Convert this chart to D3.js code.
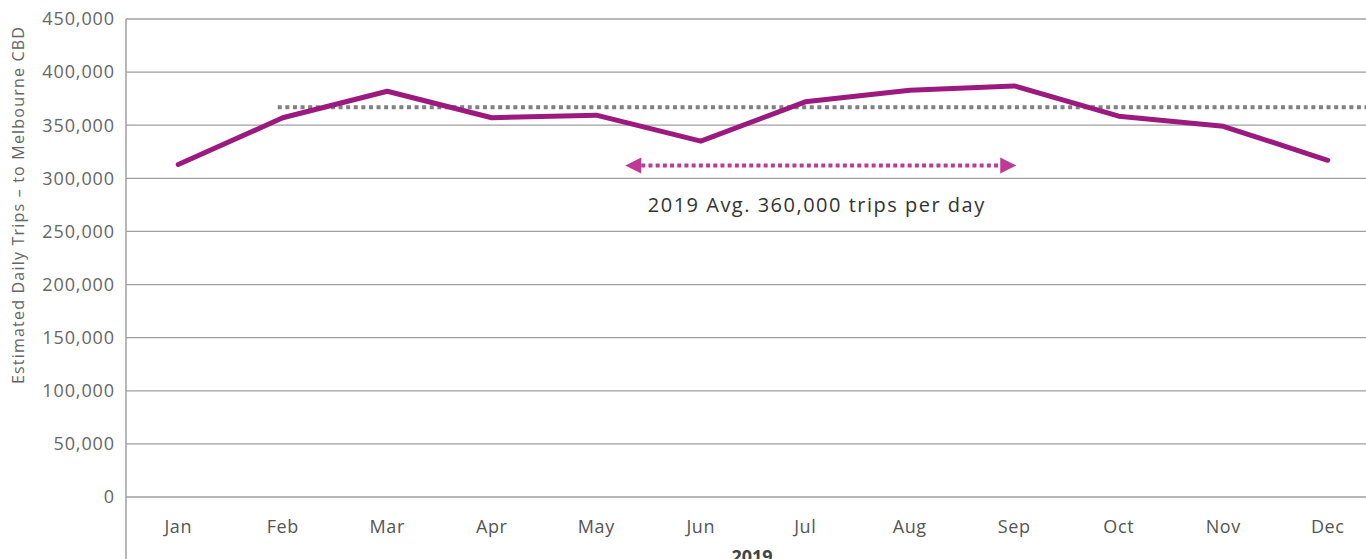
<!DOCTYPE html>
<html>
<head>
<meta charset="utf-8">
<script src="https://cdn.jsdelivr.net/npm/d3@7"></script>
<style>
  body { margin: 0; background: #fff; }
  svg { display: block; font-family: "Open Sans", Lato, sans-serif; }
</style>
</head>
<body>
<svg width="1366" height="559"></svg>
<script>
var months = ["Jan", "Feb", "Mar", "Apr", "May", "Jun", "Jul", "Aug", "Sep", "Oct", "Nov", "Dec"];
var trips = [313000, 357000, 382000, 357000, 359500, 335000, 372000, 383000, 387000, 358500, 349000, 317000];
var yTicks = [0, 50000, 100000, 150000, 200000, 250000, 300000, 350000, 400000, 450000];
var avgValue = 367000;
var avgStart = "Feb";
var arrowFrom = "May", arrowTo = "Sep", arrowValue = 312000;
var avgLabel = "2019 Avg. 360,000 trips per day";

var svg = d3.select("svg"),
    width = +svg.attr("width"),
    height = +svg.attr("height");

var plotLeft = 126, plotTop = 19, plotBottom = 497;

var x = d3.scaleBand()
    .domain(months)
    .range([plotLeft, plotLeft + 12 * 104.5]);

var y = d3.scaleLinear()
    .domain([0, 450000])
    .range([plotBottom, plotTop]);

var fmt = d3.format(",");

// gridlines
svg.append("g")
  .selectAll("line")
  .data(yTicks)
  .enter().append("line")
    .attr("x1", plotLeft)
    .attr("x2", width)
    .attr("y1", function(d) { return y(d); })
    .attr("y2", function(d) { return y(d); })
    .attr("stroke", "#a0a0a0")
    .attr("stroke-width", 1.3);

// y tick labels
svg.append("g")
  .selectAll("text")
  .data(yTicks)
  .enter().append("text")
    .attr("x", 115)
    .attr("y", function(d) { return y(d); })
    .attr("dy", "0.35em")
    .attr("text-anchor", "end")
    .attr("fill", "#666")
    .style("font-size", "18px")
    .style("letter-spacing", "0.9px")
    .text(function(d) { return fmt(d); });

// left axis line
svg.append("line")
    .attr("x1", plotLeft).attr("x2", plotLeft)
    .attr("y1", plotTop).attr("y2", height)
    .attr("stroke", "#a0a0a0")
    .attr("stroke-width", 1.5);

// y axis title
svg.append("text")
    .attr("transform", "translate(24," + 205 + ") rotate(-90)")
    .attr("text-anchor", "middle")
    .attr("fill", "#666")
    .style("font-size", "16px")
    .style("letter-spacing", "1.2px")
    .text("Estimated Daily Trips \u2013 to Melbourne CBD");

// month labels
svg.append("g")
  .selectAll("text")
  .data(months)
  .enter().append("text")
    .attr("x", function(d) { return x(d) + x.bandwidth() / 2; })
    .attr("y", 533)
    .attr("text-anchor", "middle")
    .attr("fill", "#555")
    .style("font-size", "18px")
    .style("letter-spacing", "0.6px")
    .text(function(d) { return d; });

svg.append("text")
    .attr("x", 752)
    .attr("y", 563)
    .attr("text-anchor", "middle")
    .attr("fill", "#444")
    .style("font-size", "18px")
    .style("font-weight", "bold")
    .text("2019");

// average dotted line
svg.append("line")
    .attr("x1", x(avgStart) + x.bandwidth() / 2 - 5)
    .attr("x2", width)
    .attr("y1", y(avgValue))
    .attr("y2", y(avgValue))
    .attr("stroke", "#808080")
    .attr("stroke-width", 4)
    .attr("stroke-dasharray", "4,3.6");

// main line
var line = d3.line()
    .x(function(d, i) { return x(months[i]) + x.bandwidth() / 2; })
    .y(function(d) { return y(d); });

svg.append("path")
    .datum(trips)
    .attr("d", line)
    .attr("fill", "none")
    .attr("stroke", "#9c1a80")
    .attr("stroke-width", 5)
    .attr("stroke-linejoin", "round")
    .attr("stroke-linecap", "round");

// arrow annotation
var ax1 = x(arrowFrom) + x.bandwidth() / 2 + 29,
    ax2 = x(arrowTo) + x.bandwidth() / 2 + 2,
    ay = y(arrowValue);
var pink = "#bf3a97";

svg.append("line")
    .attr("x1", ax1 + 16)
    .attr("x2", ax2 - 16)
    .attr("y1", ay)
    .attr("y2", ay)
    .attr("stroke", pink)
    .attr("stroke-width", 4)
    .attr("stroke-dasharray", "4,3.2");

svg.append("path")
    .attr("d", "M" + ax1 + "," + ay + "L" + (ax1 + 16) + "," + (ay - 8) + "L" + (ax1 + 16) + "," + (ay + 8) + "Z")
    .attr("fill", pink);

svg.append("path")
    .attr("d", "M" + ax2 + "," + ay + "L" + (ax2 - 16) + "," + (ay - 8) + "L" + (ax2 - 16) + "," + (ay + 8) + "Z")
    .attr("fill", pink);

svg.append("text")
    .attr("x", (ax1 + ax2) / 2 - 4)
    .attr("y", 212)
    .attr("text-anchor", "middle")
    .attr("fill", "#333")
    .style("font-size", "20px")
    .style("letter-spacing", "1.5px")
    .text(avgLabel);
</script>
</body>
</html>
